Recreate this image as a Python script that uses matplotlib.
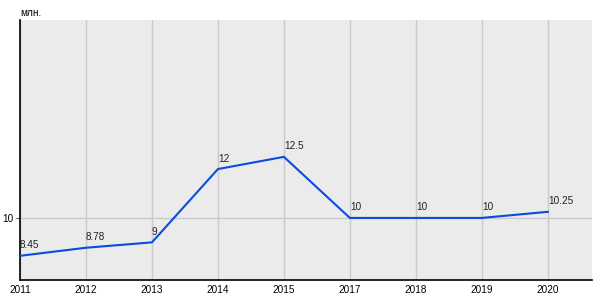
import matplotlib.pyplot as plt

# Данные
years = ['2011', '2012', '2013', '2014', '2015', '2017', '2018', '2019', '2020']
values = [8.45, 8.78, 9, 12, 12.5, 10, 10, 10, 10.25]
value_labels = ['8.45', '8.78', '9', '12', '12.5', '10', '10', '10', '10.25']

plt.rcParams['font.family'] = ['Liberation Sans', 'DejaVu Sans']

fig = plt.figure(figsize=(6, 3), dpi=100)
ax = fig.add_axes([20/600, 20/300, 572/600, 260/300])
ax.set_facecolor('#ebebeb')

x = list(range(len(years)))
ax.plot(x, values, color='#0a4be0', lw=1.5, zorder=3)

for xi, v, lab in zip(x, values, value_labels):
    ax.annotate(lab, (xi, v), xytext=(0, 4), textcoords='offset points',
                ha='left', va='bottom', fontsize=7.2, color='#222222', zorder=4)

ax.set_xlim(0, 8.67)
ax.set_ylim(7.46, 18.1)
ax.set_xticks(x)
ax.set_xticklabels(years, fontsize=7.2)
ax.set_yticks([10])
ax.set_yticklabels(['10'], fontsize=7.2)
ax.grid(True, color='#cacaca', lw=1)
ax.set_axisbelow(True)
ax.tick_params(axis='x', length=0, pad=3.5)
ax.tick_params(axis='y', length=3, pad=2, color='#555555')

for s in ['top', 'right']:
    ax.spines[s].set_visible(False)
for s in ['left', 'bottom']:
    ax.spines[s].set_color('black')
    ax.spines[s].set_linewidth(1.2)

fig.text(20/600, 1 - 13/300, 'млн.', fontsize=7.2, ha='left', va='center')

fig.savefig('out.png', dpi=100)
